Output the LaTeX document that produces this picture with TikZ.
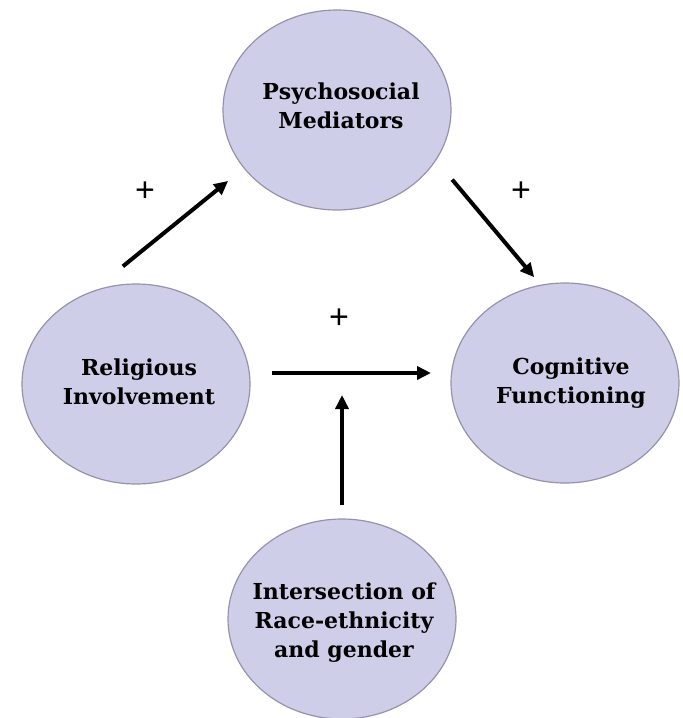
\documentclass[tikz,border=0pt]{standalone}
\usepackage{fontspec}
\setmainfont{DejaVu Serif}
\newfontfamily\plusfont{Liberation Sans}
\usepackage{tikz}
\usetikzlibrary{arrows.meta,shapes.geometric}
\definecolor{rcLavender}{RGB}{207,206,233}
\definecolor{rcEdge}{RGB}{148,146,172}

\begin{document}
\begin{tikzpicture}[x=0.5pt, y=-0.5pt, >={Triangle[length=7pt,width=6.5pt]}]
\tikzstyle{oval}=[ellipse, draw=rcEdge, line width=0.6pt, fill=rcLavender, minimum width=114pt, minimum height=100pt, inner sep=0pt]
\tikzstyle{lbl}=[align=center, font=\bfseries\fontsize{11}{14.5}\selectfont]
\tikzstyle{arr}=[->, line width=2pt, black]
\tikzstyle{sign}=[font=\plusfont\fontsize{17}{20}\selectfont]

\useasboundingbox (0,0) rectangle (683,718);

% the four constructs
\node[oval, label={[lbl, xshift=2pt, yshift=2pt]center:{Psychosocial\\Mediators}}] (psy) at (337,110) {};
\node[oval, label={[lbl, xshift=1.5pt, yshift=1pt]center:{Religious\\Involvement}}] (rel) at (136,384) {};
\node[oval, label={[lbl, xshift=3pt]center:{Cognitive\\Functioning}}] (cog) at (565,383) {};
\node[oval, label={[lbl, xshift=1pt, yshift=-2pt]center:{Intersection of\\Race-ethnicity\\and gender}}] (int) at (342,619) {};

% paths
\coordinate (mod) at (342,373);
\draw[arr, shorten <=19.5pt, shorten >=10pt] (rel.115.5) -- (psy.212);
\draw[arr, shorten <=12.5pt, shorten >=4.9pt] (psy.333) -- (cog.104);
\draw[arr, shorten <=10.7pt, shorten >=9.7pt] (rel.east |- mod) -- (cog.west |- mod);
\draw[arr, shorten <=6.5pt, shorten >=11pt] (int.north) -- (mod);

\node[sign] (plusA) at (145,192) {+};
\node[sign] (plusB) at (521,192) {+};
\node[sign] (plusC) at (339,319) {+};
\end{tikzpicture}
\end{document}
